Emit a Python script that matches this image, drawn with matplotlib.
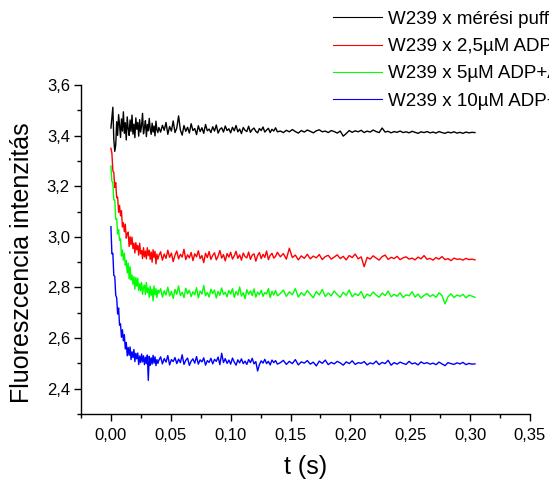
import numpy as np
import matplotlib
matplotlib.use("Agg")
import matplotlib.pyplot as plt
from matplotlib.ticker import MultipleLocator, FuncFormatter

plt.rcParams['font.family'] = ['Liberation Sans', 'DejaVu Sans']

# time sampling: three segments (start, step, count); last segment takes the rest
seg_a = (0.0, 0.0008, 50)
seg_b = (0.040, 0.0015, 67)
seg_c = (0.1415, 0.0025)

labels = ["W239 x mérési puffer", "W239 x 2,5µM ADP+AlF4",
          "W239 x 5µM ADP+AlF4", "W239 x 10µM ADP+AlF4"]
colors = ["black", "red", "#00ff00", "blue"]

black = [
    3.430, 3.472, 3.512, 3.385, 3.338, 3.362, 3.455, 3.401, 3.483, 3.442,
    3.393, 3.466, 3.418, 3.494, 3.409, 3.451, 3.383, 3.474, 3.428, 3.401,
    3.462, 3.417, 3.481, 3.406, 3.445, 3.392, 3.470, 3.425, 3.452, 3.398,
    3.463, 3.414, 3.440, 3.488, 3.407, 3.431, 3.459, 3.396, 3.444, 3.419,
    3.468, 3.426, 3.405, 3.449, 3.414, 3.438, 3.399, 3.457, 3.423, 3.412,
    3.432, 3.414, 3.441, 3.421, 3.452, 3.405, 3.436, 3.418, 3.458, 3.412,
    3.430, 3.478, 3.422, 3.402, 3.440, 3.417, 3.433, 3.410, 3.447, 3.420,
    3.428, 3.404, 3.439, 3.416, 3.431, 3.409, 3.444, 3.419, 3.426, 3.412,
    3.435, 3.418, 3.442, 3.410, 3.425, 3.431, 3.414, 3.438, 3.420, 3.427,
    3.411, 3.433, 3.419, 3.440, 3.415, 3.426, 3.408, 3.432, 3.421, 3.416,
    3.437, 3.413, 3.424, 3.430, 3.417, 3.411, 3.428, 3.420, 3.434, 3.414,
    3.422, 3.429, 3.412, 3.425, 3.418, 3.431, 3.415,
    3.418, 3.412, 3.421, 3.415, 3.424, 3.416, 3.410, 3.420, 3.414, 3.422,
    3.417, 3.411, 3.419, 3.423, 3.415, 3.418, 3.412, 3.420, 3.416, 3.410,
    3.418, 3.398, 3.408, 3.420, 3.413, 3.419, 3.415, 3.421, 3.412, 3.418,
    3.414, 3.422, 3.416, 3.412, 3.430, 3.414, 3.417, 3.411, 3.416, 3.413,
    3.418, 3.412, 3.415, 3.411, 3.417, 3.413, 3.409, 3.415, 3.412, 3.416,
    3.411, 3.414, 3.410, 3.416, 3.412, 3.409, 3.414, 3.411, 3.415, 3.410,
    3.413, 3.409, 3.414, 3.411, 3.413, 3.412,
]

red = [
    3.350, 3.331, 3.261, 3.254, 3.195, 3.214, 3.154, 3.157, 3.097, 3.124,
    3.083, 3.103, 3.039, 3.056, 3.020, 3.050, 2.995, 3.012, 3.019, 2.962,
    3.000, 2.969, 2.999, 2.954, 2.975, 2.936, 2.977, 2.949, 2.966, 2.928,
    2.975, 2.933, 2.946, 2.914, 2.957, 2.921, 2.944, 2.913, 2.957, 2.926,
    2.947, 2.911, 2.940, 2.900, 2.949, 2.919, 2.943, 2.893, 2.932, 2.912,
    2.925, 2.941, 2.908, 2.932, 2.915, 2.947, 2.919, 2.936, 2.902, 2.928,
    2.944, 2.913, 2.931, 2.920, 2.951, 2.910, 2.929, 2.917, 2.938, 2.906,
    2.933, 2.921, 2.945, 2.914, 2.926, 2.898, 2.935, 2.918, 2.942, 2.911,
    2.927, 2.937, 2.909, 2.924, 2.946, 2.916, 2.930, 2.905, 2.934, 2.920,
    2.939, 2.912, 2.925, 2.943, 2.915, 2.929, 2.908, 2.936, 2.922, 2.917,
    2.940, 2.911, 2.928, 2.933, 2.904, 2.926, 2.938, 2.914, 2.931, 2.919,
    2.944, 2.910, 2.927, 2.935, 2.916, 2.923, 2.939,
    2.921, 2.934, 2.912, 2.955, 2.918, 2.928, 2.909, 2.925, 2.915, 2.931,
    2.913, 2.924, 2.917, 2.930, 2.910, 2.922, 2.927, 2.912, 2.920, 2.929,
    2.914, 2.923, 2.909, 2.926, 2.918, 2.932, 2.913, 2.921, 2.882, 2.919,
    2.912, 2.925, 2.916, 2.908, 2.922, 2.928, 2.911, 2.919, 2.914, 2.923,
    2.910, 2.917, 2.921, 2.912, 2.916, 2.909, 2.920, 2.913, 2.926, 2.911,
    2.915, 2.908, 2.918, 2.912, 2.922, 2.910, 2.914, 2.906, 2.916, 2.911,
    2.913, 2.908, 2.915, 2.910, 2.912, 2.909,
]

green = [
    3.280, 3.220, 3.213, 3.146, 3.146, 3.070, 3.072, 3.011, 3.028, 2.986,
    2.992, 2.924, 2.948, 2.908, 2.935, 2.888, 2.907, 2.857, 2.896, 2.834,
    2.882, 2.830, 2.849, 2.813, 2.843, 2.793, 2.839, 2.805, 2.836, 2.788,
    2.815, 2.787, 2.820, 2.773, 2.801, 2.809, 2.772, 2.820, 2.779, 2.798,
    2.761, 2.805, 2.769, 2.793, 2.747, 2.806, 2.771, 2.795, 2.760, 2.789,
    2.778, 2.795, 2.762, 2.787, 2.770, 2.801, 2.766, 2.784, 2.757, 2.792,
    2.773, 2.806, 2.768, 2.781, 2.760, 2.797, 2.775, 2.789, 2.764, 2.783,
    2.771, 2.799, 2.759, 2.786, 2.774, 2.808, 2.767, 2.780, 2.762, 2.793,
    2.776, 2.790, 2.758, 2.785, 2.769, 2.798, 2.772, 2.781, 2.763, 2.788,
    2.774, 2.795, 2.761, 2.784, 2.770, 2.802, 2.766, 2.779, 2.756, 2.791,
    2.773, 2.786, 2.768, 2.794, 2.762, 2.782, 2.771, 2.789, 2.765, 2.780,
    2.774, 2.796, 2.760, 2.785, 2.770, 2.788, 2.767,
    2.776, 2.790, 2.765, 2.783, 2.771, 2.795, 2.762, 2.780, 2.768, 2.788,
    2.773, 2.759, 2.784, 2.770, 2.792, 2.764, 2.778, 2.767, 2.786, 2.772,
    2.761, 2.781, 2.769, 2.790, 2.763, 2.776, 2.768, 2.784, 2.757, 2.774,
    2.766, 2.782, 2.770, 2.761, 2.778, 2.768, 2.786, 2.763, 2.773, 2.765,
    2.779, 2.760, 2.771, 2.767, 2.783, 2.762, 2.774, 2.758, 2.769, 2.776,
    2.764, 2.772, 2.761, 2.779, 2.768, 2.735, 2.763, 2.775, 2.760, 2.770,
    2.765, 2.773, 2.759, 2.769, 2.766, 2.761,
]

blue = [
    3.040, 2.933, 2.935, 2.848, 2.844, 2.769, 2.760, 2.695, 2.719, 2.651,
    2.656, 2.603, 2.633, 2.589, 2.613, 2.557, 2.583, 2.530, 2.563, 2.532,
    2.565, 2.515, 2.546, 2.523, 2.555, 2.507, 2.540, 2.518, 2.541, 2.495,
    2.529, 2.503, 2.537, 2.506, 2.530, 2.495, 2.524, 2.499, 2.533, 2.433,
    2.528, 2.492, 2.522, 2.497, 2.532, 2.501, 2.526, 2.491, 2.515, 2.500,
    2.512, 2.526, 2.498, 2.519, 2.505, 2.531, 2.494, 2.515, 2.507, 2.523,
    2.499, 2.517, 2.503, 2.534, 2.496, 2.512, 2.521, 2.492, 2.509, 2.518,
    2.501, 2.527, 2.497, 2.514, 2.506, 2.522, 2.493, 2.511, 2.504, 2.520,
    2.498, 2.516, 2.508, 2.525, 2.495, 2.540, 2.503, 2.519, 2.500, 2.513,
    2.497, 2.521, 2.505, 2.493, 2.514, 2.502, 2.518, 2.499, 2.509, 2.496,
    2.515, 2.503, 2.520, 2.498, 2.507, 2.470, 2.495, 2.510, 2.501, 2.516,
    2.499, 2.508, 2.494, 2.513, 2.503, 2.511, 2.497,
    2.503, 2.512, 2.496, 2.508, 2.499, 2.515, 2.494, 2.506, 2.501, 2.511,
    2.497, 2.505, 2.490, 2.509, 2.500, 2.513, 2.495, 2.504, 2.498, 2.508,
    2.502, 2.493, 2.506, 2.499, 2.510, 2.496, 2.503, 2.500, 2.507, 2.494,
    2.502, 2.498, 2.509, 2.495, 2.504, 2.499, 2.512, 2.493, 2.503, 2.497,
    2.505, 2.500, 2.496, 2.508, 2.498, 2.502, 2.494, 2.506, 2.499, 2.503,
    2.497, 2.501, 2.495, 2.505, 2.498, 2.491, 2.503, 2.499, 2.496, 2.502,
    2.498, 2.504, 2.495, 2.500, 2.497, 2.498,
]

series = [black, red, green, blue]

x_ticks = [0.00, 0.05, 0.10, 0.15, 0.20, 0.25, 0.30, 0.35]
y_ticks = [2.4, 2.6, 2.8, 3.0, 3.2, 3.4, 3.6]


def time_axis(n):
    a = seg_a[0] + seg_a[1] * np.arange(seg_a[2])
    b = seg_b[0] + seg_b[1] * np.arange(seg_b[2])
    c = seg_c[0] + seg_c[1] * np.arange(n - seg_a[2] - seg_b[2])
    return np.concatenate([a, b, c])


W, H = 549, 479
fig = plt.figure(figsize=(W / 100, H / 100), dpi=100)
ax = fig.add_axes([81 / W, 1 - 414 / H, (530 - 81) / W, (414 - 85) / H])

for vals, col, lab in zip(series, colors, labels):
    t = time_axis(len(vals))
    ax.plot(t, vals, color=col, lw=1.0, label=lab)

ax.set_xlim(-0.025, 0.35)
ax.set_ylim(2.3, 3.6)
ax.set_xticks(x_ticks)
ax.set_yticks(y_ticks)
ax.xaxis.set_minor_locator(MultipleLocator(0.025))
ax.yaxis.set_minor_locator(MultipleLocator(0.1))
ax.xaxis.set_major_formatter(FuncFormatter(lambda v, p: f"{v:.2f}".replace(".", ",")))
ax.yaxis.set_major_formatter(FuncFormatter(lambda v, p: f"{v:.1f}".replace(".", ",")))

for s in ("top", "right"):
    ax.spines[s].set_visible(False)
for s in ("left", "bottom"):
    ax.spines[s].set_linewidth(1.0)

ax.tick_params(which="major", direction="out", length=5, width=1, labelsize=12, pad=3)
ax.tick_params(which="minor", direction="out", length=3, width=1)
ax.tick_params(axis="x", which="major", pad=5)

ax.set_xlabel("t (s)", fontsize=18)
ax.xaxis.set_label_coords(0.5, (414 - 467) / 329)
ax.xaxis.label.set_verticalalignment("center")
ax.set_ylabel("Fluoreszcencia intenzitás", fontsize=18)
ax.yaxis.set_label_coords((22 - 81) / 449, (414 - 263) / 329)
ax.yaxis.label.set_verticalalignment("center")

leg = ax.legend(loc="upper left", bbox_to_anchor=(333 / W, 1 - 10.5 / H),
                bbox_transform=fig.transFigure, frameon=False, fontsize=13.5,
                handlelength=2.6, handletextpad=0.32, labelspacing=0.55,
                borderpad=0, borderaxespad=0)
for h in leg.get_lines():
    h.set_linewidth(0.8)

fig.savefig("out.png", dpi=100)
